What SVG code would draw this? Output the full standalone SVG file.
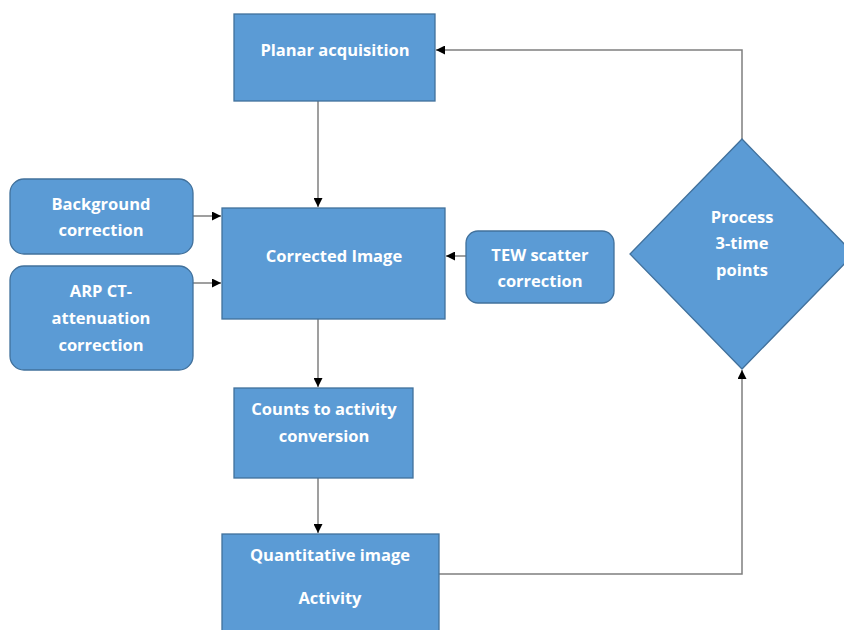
<svg xmlns="http://www.w3.org/2000/svg" width="844" height="630" viewBox="0 0 844 630">
<style>
.box{fill:#5B9BD5;stroke:#41719C;stroke-width:1.3}
.t{font-family:"Open Sans","Liberation Sans",sans-serif;font-weight:bold;font-size:16.5px;fill:#ffffff;text-anchor:middle}
.c{fill:none;stroke:#7f7f7f;stroke-width:1.5}
</style>
<defs>
<marker id="ah" viewBox="0 0 10 10" refX="10" refY="5" markerWidth="9" markerHeight="9" markerUnits="userSpaceOnUse" orient="auto"><path d="M0,0 L10,5 L0,10 z" fill="#000"/></marker>
</defs>
<rect width="844" height="630" fill="#fff"/>
<g id="connectors">
<path class="c" d="M318,101 V207" marker-end="url(#ah)"/>
<path class="c" d="M318,319 V387" marker-end="url(#ah)"/>
<path class="c" d="M318,478 V533" marker-end="url(#ah)"/>
<path class="c" d="M193,216 H221" marker-end="url(#ah)"/>
<path class="c" d="M193,283 H221" marker-end="url(#ah)"/>
<path class="c" d="M466,256 H446" marker-end="url(#ah)"/>
<path class="c" d="M742,139 V50 H436" marker-end="url(#ah)"/>
<path class="c" d="M439,574 H742 V370" marker-end="url(#ah)"/>
</g>
<g id="planar"><rect class="box" x="234" y="14" width="201" height="87"/><text class="t" x="335" y="56">Planar acquisition</text></g>
<g id="corrected"><rect class="box" x="222" y="208" width="223" height="111"/><text class="t" x="334" y="262">Corrected Image</text></g>
<g id="background"><rect class="box" x="10" y="179" width="183" height="75" rx="14"/><text class="t" x="101" y="210">Background</text><text class="t" x="101" y="236">correction</text></g>
<g id="arp"><rect class="box" x="10" y="266" width="183" height="104" rx="14"/><text class="t" x="101" y="297">ARP CT-</text><text class="t" x="101" y="324">attenuation</text><text class="t" x="101" y="351">correction</text></g>
<g id="tew"><rect class="box" x="466" y="231" width="148" height="72" rx="12"/><text class="t" x="540" y="261">TEW scatter</text><text class="t" x="540" y="287">correction</text></g>
<g id="process"><polygon class="box" points="742,139 854,254 742,369 630,254"/><text class="t" x="742" y="223">Process</text><text class="t" x="742" y="249">3-time</text><text class="t" x="742" y="276">points</text></g>
<g id="counts"><rect class="box" x="234" y="388" width="179" height="90"/><text class="t" x="324" y="415">Counts to activity</text><text class="t" x="324" y="442">conversion</text></g>
<g id="quant"><rect class="box" x="222" y="534" width="217" height="100"/><text class="t" x="330" y="561">Quantitative image</text><text class="t" x="330" y="604">Activity</text></g>
</svg>
